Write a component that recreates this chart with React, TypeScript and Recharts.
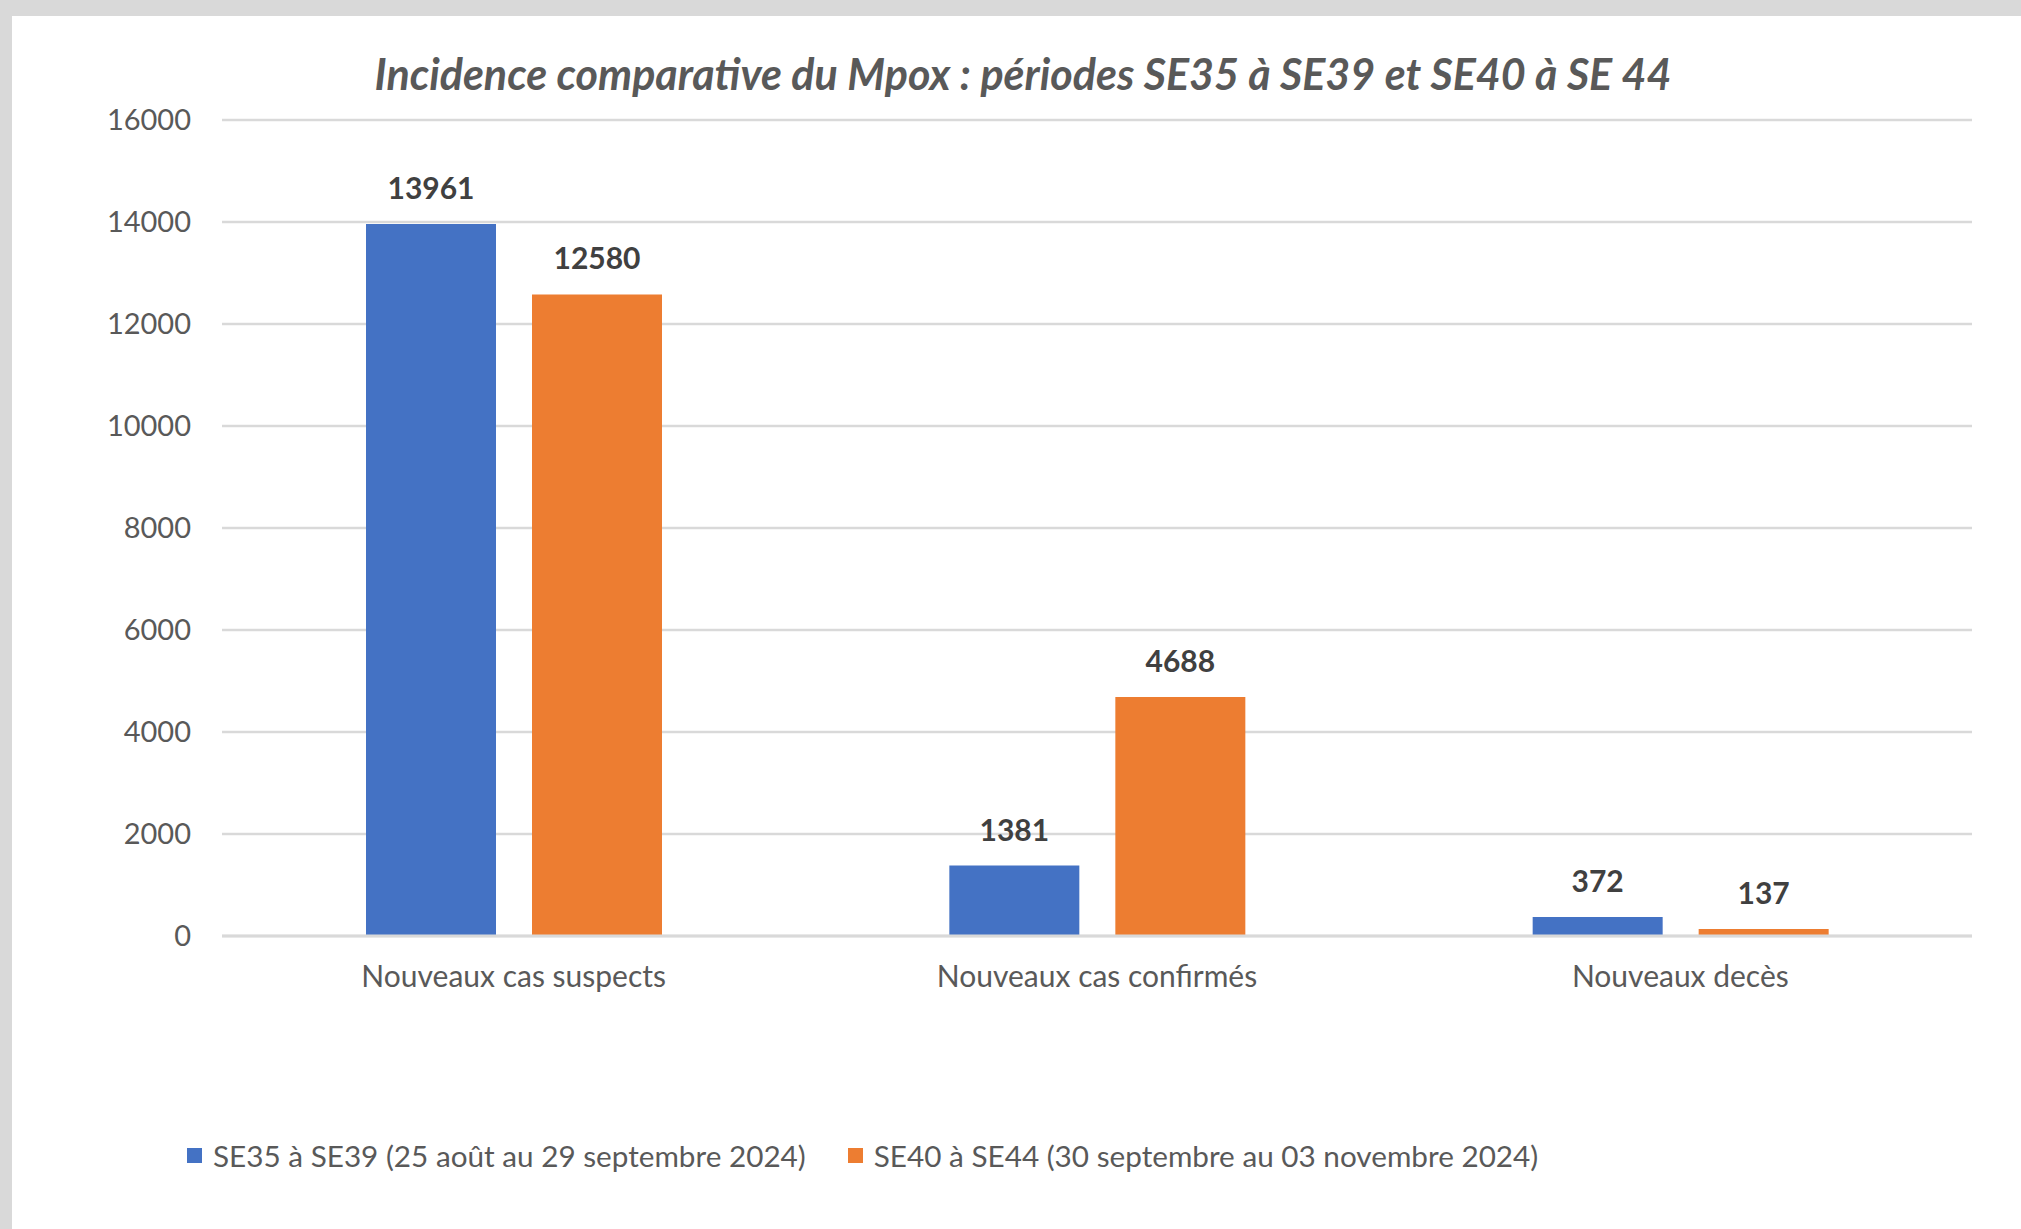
import React from "react";
import { BarChart, Bar, XAxis, YAxis, CartesianGrid, LabelList } from "recharts";

const categories = ["Nouveaux cas suspects", "Nouveaux cas confirmés", "Nouveaux decès"];
const se35to39 = [13961, 1381, 372];
const se40to44 = [12580, 4688, 137];
const yTicks = [0, 2000, 4000, 6000, 8000, 10000, 12000, 14000, 16000];
const seriesNames = [
  "SE35 à SE39 (25 août au 29 septembre 2024)",
  "SE40 à SE44 (30 septembre au 03 novembre 2024)",
];
const seriesColors = ["#4472C4", "#ED7D31"];

const title = "Incidence comparative du Mpox : périodes SE35 à SE39 et SE40 à SE 44";

const data = categories.map((name, i) => ({
  name,
  s1: se35to39[i],
  s2: se40to44[i],
}));

const font = "Lato, 'Open Sans', sans-serif";
const textGray = "#595959";

export default function App() {
  return (
    <div
      style={{
        position: "absolute",
        left: 0,
        top: 0,
        width: 2021,
        height: 1229,
        background: "#d9d9d9",
        overflow: "hidden",
        fontFamily: font,
      }}
    >
      <div
        style={{
          position: "absolute",
          left: 12,
          top: 16,
          width: 2009,
          height: 1213,
          background: "#ffffff",
        }}
      />
      <div
        style={{
          position: "absolute",
          left: 23,
          top: 50,
          width: 2000,
          textAlign: "center",
          fontSize: 43,
          lineHeight: "48px",
          fontStyle: "italic",
          fontWeight: 700,
          color: textGray,
        }}
      >
        {title}
      </div>
      <div style={{ position: "absolute", left: 0, top: 0 }}>
        <BarChart
          width={2021}
          height={1229}
          data={data}
          margin={{ top: 120, right: 49, bottom: 233, left: 0 }}
          barGap={36}
        >
          <CartesianGrid vertical={false} stroke="#d9d9d9" strokeWidth={2.5} />
          <XAxis
            dataKey="name"
            height={60}
            tickSize={0}
            tickMargin={30}
            axisLine={{ stroke: "#d9d9d9", strokeWidth: 3 }}
            tick={{ fill: textGray, fontSize: 30, fontFamily: font }}
          />
          <YAxis
            width={222}
            domain={[0, 16000]}
            ticks={yTicks}
            axisLine={false}
            tickLine={false}
            tickSize={0}
            tickMargin={31}
            tick={{ fill: textGray, fontSize: 29, fontFamily: font }}
          />
          <Bar dataKey="s1" name={seriesNames[0]} fill={seriesColors[0]} barSize={130} isAnimationActive={false}>
            <LabelList
              dataKey="s1"
              position="top"
              offset={25}
              fill="#404040"
              fontSize={30}
              fontWeight={700}
              fontFamily={font}
            />
          </Bar>
          <Bar dataKey="s2" name={seriesNames[1]} fill={seriesColors[1]} barSize={130} isAnimationActive={false}>
            <LabelList
              dataKey="s2"
              position="top"
              offset={25}
              fill="#404040"
              fontSize={30}
              fontWeight={700}
              fontFamily={font}
            />
          </Bar>
        </BarChart>
      </div>
      <div
        style={{
          position: "absolute",
          left: 187,
          top: 1135,
          height: 40,
          display: "flex",
          alignItems: "center",
          fontSize: 29.7,
          color: textGray,
          whiteSpace: "nowrap",
        }}
      >
        {seriesNames.map((n, i) => (
          <div key={n} style={{ display: "flex", alignItems: "center", marginRight: 42 }}>
            <span
              style={{
                display: "inline-block",
                width: 15,
                height: 15,
                background: seriesColors[i],
                marginRight: 11,
              }}
            />
            <span>{n}</span>
          </div>
        ))}
      </div>
    </div>
  );
}
